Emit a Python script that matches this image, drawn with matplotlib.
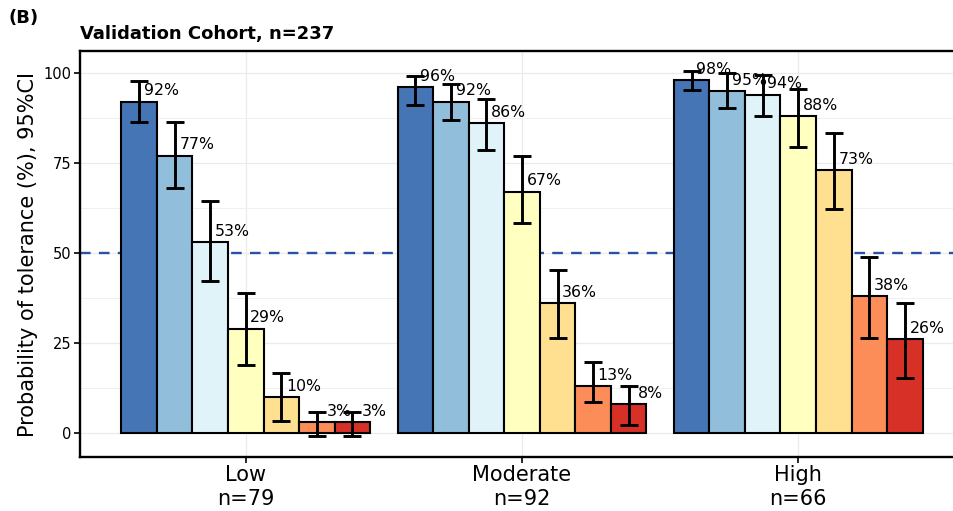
import numpy as np
import matplotlib
matplotlib.use("Agg")
import matplotlib.pyplot as plt

# risk groups (x axis)
groups = ["Low", "Moderate", "High"]
group_n = [79, 92, 66]

# probability of tolerance (%) per group, one value per subgroup (7 subgroups)
values = [
    [92, 77, 53, 29, 10, 3, 3],
    [96, 92, 86, 67, 36, 13, 8],
    [98, 95, 94, 88, 73, 38, 26],
]
ci_low = [
    [86.5, 68.0, 42.2, 18.9, 3.4, -1.0, -1.0],
    [91.1, 86.9, 78.6, 58.2, 26.3, 8.7, 2.2],
    [95.3, 90.2, 88.1, 79.4, 62.1, 26.3, 15.2],
]
ci_high = [
    [97.9, 86.3, 64.3, 38.8, 16.6, 5.9, 5.9],
    [99.2, 96.9, 92.7, 76.8, 45.3, 19.8, 12.9],
    [100.6, 99.9, 99.4, 95.5, 83.2, 49.0, 36.2],
]

# RdYlBu, 7 classes, reversed
colors = ["#4575b4", "#91bfdb", "#e0f3f8", "#ffffbf", "#fee090", "#fc8d59", "#d73027"]

plt.rcParams["font.family"] = ["DejaVu Sans"]

fig = plt.figure(figsize=(9.54, 5.11), dpi=100)
ax = fig.add_axes([80 / 954, 54 / 511, 884 / 954, 406 / 511])

n_sub = len(colors)
dodge = 0.9
w = dodge / n_sub
xs = np.arange(1, len(groups) + 1)

for i, g in enumerate(groups):
    for j in range(n_sub):
        x = xs[i] + (j - (n_sub - 1) / 2) * w
        v = values[i][j]
        ax.bar(x, v, width=w, color=colors[j], edgecolor="black", linewidth=1.5, zorder=3)
        ax.errorbar(x, v, yerr=[[v - ci_low[i][j]], [ci_high[i][j] - v]], fmt="none",
                    ecolor="black", elinewidth=2.1, capsize=6.3, capthick=2.1, zorder=4)
        ax.text(x + 0.08, v + 3, f"{v}%", ha="center", va="center", fontsize=11.3, zorder=5)

ax.axhline(50, color="#2a52a4", linestyle=(0, (4.5, 3.5)), linewidth=1.7, zorder=2)

ax.set_xlim(0.4, 3.6)
ax.set_ylim(-6.7, 106.1)
ax.set_yticks([0, 25, 50, 75, 100])
ax.set_yticks(np.arange(12.5, 100, 25), minor=True)
ax.set_xticks(xs)
ax.set_xticklabels([f"{g}\nn={n}" for g, n in zip(groups, group_n)], fontsize=15, linespacing=1.25)
ax.tick_params(axis="y", labelsize=10.5, length=4, width=1.2, pad=2)
ax.tick_params(axis="x", length=4, width=1.2, pad=2)
ax.tick_params(axis="y", which="minor", length=0)

ax.grid(True, which="major", color="#ebebeb", linewidth=0.9, zorder=0)
ax.grid(True, which="minor", axis="y", color="#f0f0f0", linewidth=0.7, zorder=0)
ax.set_axisbelow(True)

for s in ["left", "top", "bottom", "right"]:
    ax.spines[s].set_linewidth(1.7)

ax.set_ylabel("Probability of tolerance (%), 95%CI", fontsize=15, labelpad=4)
ax.set_title("Validation Cohort, n=237", loc="left", fontsize=13, fontweight="bold", pad=9)
fig.text(8 / 954, 1 - 18 / 511, "(B)", fontsize=13, fontweight="bold", va="center", ha="left")

fig.savefig("out.png", dpi=100)
